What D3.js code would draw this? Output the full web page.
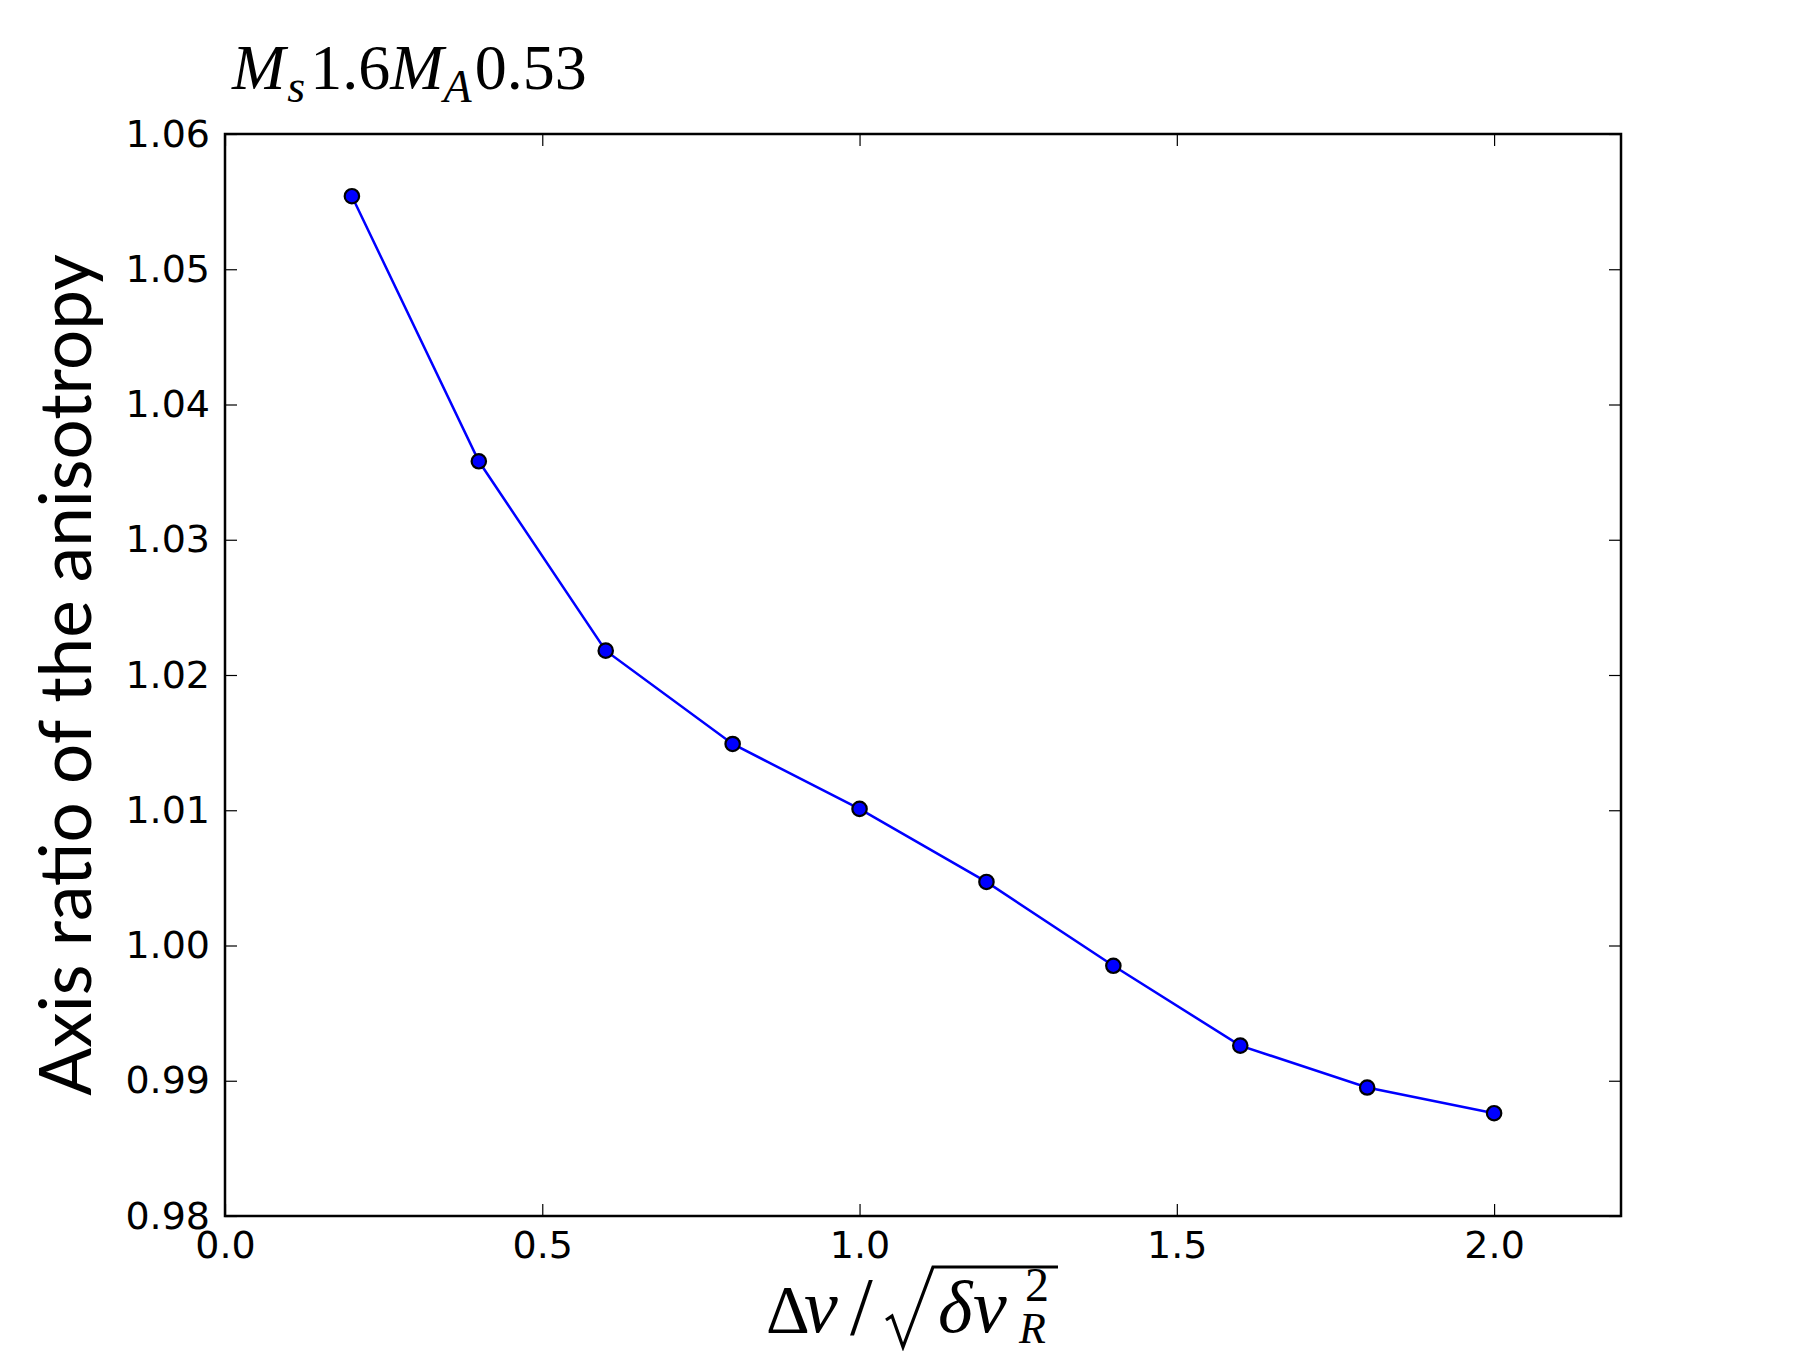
<!DOCTYPE html>
<html>
<head>
<meta charset="utf-8">
<script src="https://cdn.jsdelivr.net/npm/d3@7"></script>
<style>
  body { margin: 0; background: #fff; }
  svg { display: block; }
</style>
</head>
<body>
<div id="chart"></div>
<script>
// data
const dvRatio = [0.2, 0.4, 0.6, 0.8, 1.0, 1.2, 1.4, 1.6, 1.8, 2.0];
const axisRatio = [1.0554, 1.0358, 1.0218, 1.0149, 1.0101, 1.0047, 0.9985, 0.9926, 0.9895, 0.9876];
const xTicks = [0.0, 0.5, 1.0, 1.5, 2.0];
const yTicks = [0.98, 0.99, 1.00, 1.01, 1.02, 1.03, 1.04, 1.05, 1.06];

const width = 1801, height = 1351;
const margin = {top: 134, right: 180, bottom: 135, left: 225};

const svg = d3.select('#chart').append('svg')
  .attr('width', width)
  .attr('height', height);

const x = d3.scaleLinear().domain([0, 2.2]).range([margin.left, width - margin.right]);
const y = d3.scaleLinear().domain([0.98, 1.06]).range([height - margin.bottom, margin.top]);

const tickFont = '"DejaVu Sans", sans-serif';
const tickSize = 38;

// ticks, inward on all four sides
function styleAxis(g) {
  g.select('.domain').remove();
  g.selectAll('.tick line').attr('stroke', '#000').attr('stroke-width', 1.2);
  g.selectAll('.tick text').attr('fill', '#000')
    .style('font-family', tickFont).style('font-size', tickSize + 'px');
}

svg.append('g')
  .attr('transform', `translate(0,${y.range()[0]})`)
  .call(d3.axisBottom(x).tickValues(xTicks).tickFormat(d3.format('.1f')).tickSizeInner(-12).tickPadding(15))
  .call(styleAxis);

svg.append('g')
  .attr('transform', `translate(0,${y.range()[1]})`)
  .call(d3.axisTop(x).tickValues(xTicks).tickFormat('').tickSizeInner(-12))
  .call(styleAxis);

svg.append('g')
  .attr('transform', `translate(${x.range()[0]},0)`)
  .call(d3.axisLeft(y).tickValues(yTicks).tickFormat(d3.format('.2f')).tickSizeInner(-12).tickPadding(15))
  .call(styleAxis);

svg.append('g')
  .attr('transform', `translate(${x.range()[1]},0)`)
  .call(d3.axisRight(y).tickValues(yTicks).tickFormat('').tickSizeInner(-12))
  .call(styleAxis);

// frame
svg.append('rect')
  .attr('x', x.range()[0]).attr('y', y.range()[1])
  .attr('width', x.range()[1] - x.range()[0])
  .attr('height', y.range()[0] - y.range()[1])
  .attr('fill', 'none').attr('stroke', '#000').attr('stroke-width', 2.5);

// the series
const pts = dvRatio.map((d, i) => [d, axisRatio[i]]);

svg.append('path')
  .datum(pts)
  .attr('fill', 'none')
  .attr('stroke', '#0000ff')
  .attr('stroke-width', 2.5)
  .attr('d', d3.line().x(d => x(d[0])).y(d => y(d[1])));

svg.selectAll('circle.pt')
  .data(pts)
  .enter().append('circle')
    .attr('class', 'pt')
    .attr('cx', d => x(d[0]))
    .attr('cy', d => y(d[1]))
    .attr('r', 7.2)
    .attr('fill', '#0000ff')
    .attr('stroke', '#000')
    .attr('stroke-width', 2.2);

// title  M_s 1.6 M_A 0.53
const serif = '"Liberation Serif", "DejaVu Serif", serif';
const title = svg.append('text')
  .attr('x', 232).attr('y', 89)
  .style('font-family', serif)
  .style('font-size', '64px')
  .attr('fill', '#000');
title.append('tspan').style('font-style', 'italic').text('M');
title.append('tspan').style('font-style', 'italic').style('font-size', '46px').attr('dy', 13).attr('dx', 2).text('s');
title.append('tspan').attr('dy', -13).attr('dx', 5).text('1.6');
title.append('tspan').style('font-style', 'italic').text('M');
title.append('tspan').style('font-style', 'italic').style('font-size', '46px').attr('dy', 13).text('A');
title.append('tspan').attr('dy', -13).attr('dx', 3).text('0.53');

// y axis label
svg.append('text')
  .attr('transform', `translate(91,${(y.range()[0] + y.range()[1]) / 2}) rotate(-90)`)
  .attr('text-anchor', 'middle')
  .style('font-family', 'Lato, "Open Sans", sans-serif')
  .style('font-size', '71px')
  .attr('fill', '#000')
  .text('Axis ratio of the anisotropy');

// x axis label  Δv / sqrt(δv_R^2)
const xl = svg.append('g').attr('class', 'xlabel');
const base = 1332;
function glyph(txt, gx, gy, size, italic) {
  xl.append('text')
    .attr('x', gx).attr('y', gy)
    .style('font-family', serif)
    .style('font-size', size + 'px')
    .style('font-style', italic ? 'italic' : 'normal')
    .attr('fill', '#000')
    .text(txt);
}
glyph('Δ', 766, base, 68, false);
glyph('v', 804, base, 76, true);
glyph('/', 850, base + 2, 82, false);
glyph('δ', 938, base, 74, true);
glyph('v', 973, base, 76, true);
glyph('2', 1025, 1301, 48, false);
glyph('R', 1019, 1343, 44, true);

// radical sign with its bar
const rad = d3.path();
rad.moveTo(886, 1320);
rad.lineTo(892, 1316);
rad.lineTo(903, 1347);
rad.lineTo(933, 1267);
rad.lineTo(1058, 1267);
xl.append('path')
  .attr('d', rad.toString())
  .attr('fill', 'none')
  .attr('stroke', '#000')
  .attr('stroke-width', 3.2)
  .attr('stroke-linejoin', 'miter');
</script>
</body>
</html>
